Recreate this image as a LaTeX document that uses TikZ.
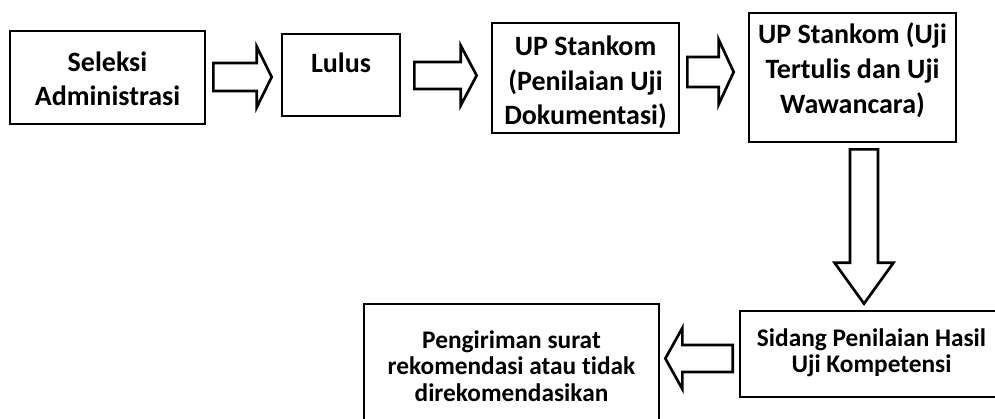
\documentclass[tikz,border=0pt]{standalone}
\usepackage{fontspec}
\setmainfont{Carlito}[Ligatures=NoCommon]
\usetikzlibrary{positioning,calc}

% block arrow between two coordinates: tail, tip, shaft half, head half, head length
\newcommand{\hblock}[5]{%
  \draw[blockarrow] ($(#1)+(0,#3)$) -- ($(#2)+({-(#5)},#3)$) -- ($(#2)+({-(#5)},#4)$) -- (#2)
    -- ($(#2)+({-(#5)},{-(#4)})$) -- ($(#2)+({-(#5)},{-(#3)})$) -- ($(#1)+(0,{-(#3)})$) -- cycle;}
\newcommand{\vblock}[5]{%
  \draw[blockarrow] ($(#1)+(#3,0)$) -- ($(#2)+(#3,{-(#5)})$) -- ($(#2)+(#4,{-(#5)})$) -- (#2)
    -- ($(#2)+({-(#4)},{-(#5)})$) -- ($(#2)+({-(#3)},{-(#5)})$) -- ($(#1)+({-(#3)},0)$) -- cycle;}
\newcommand{\boxlines}[2]{\raisebox{#1}[\height][\depth]{\begin{tabular}{@{}c@{}}#2\end{tabular}}}

\begin{document}
\begin{tikzpicture}[x=0.75pt,y=-0.75pt,
    box/.style={draw,line width=2pt,inner sep=0pt,font=\bfseries\fontsize{21}{26}\selectfont},
    lowbox/.style={box,font=\bfseries\fontsize{19}{20}\selectfont},
    blockarrow/.style={line width=2pt,line join=miter,fill=white}
    ]
\useasboundingbox (0,0) rectangle (995,418);

% Top row
\node[box,minimum width=146.25pt,minimum height=69.75pt] (sel) at (107.5,77.5) {\boxlines{-3pt}{Seleksi\\Administrasi}};
\node[box,minimum width=88.5pt,minimum height=61.5pt] (lul) at (341,75) {\boxlines{7pt}{Lulus}};
\node[box,minimum width=140.25pt,minimum height=82.5pt] (upd) at (585.5,78) {\boxlines{-4pt}{UP Stankom\\(Penilaian Uji\\Dokumentasi)}};
\node[box,minimum width=155.25pt,minimum height=96.75pt] (upu) at (852.5,77.5) {\boxlines{4.5pt}{UP Stankom (Uji\\Tertulis dan Uji\\Wawancara)}};

% Bottom row
\node[lowbox,minimum width=197.25pt,minimum height=64.5pt] (sid) at (871.5,354) {\boxlines{0pt}{Sidang Penilaian Hasil\\Uji Kompetensi}};
\node[lowbox,minimum width=221.25pt,minimum height=90pt] (pen) at (511.5,364) {\boxlines{-4pt}{Pengiriman surat\\rekomendasi atau tidak\\direkomendasikan}};

% Arrow ends
\coordinate (a1) at ($(sel.east)+(7,-0.5)$);
\coordinate (b1) at ($(lul.west |- a1)+(-9,0)$);
\coordinate (a2) at ($(lul.east)+(13,0.5)$);
\coordinate (b2) at ($(upd.west |- a2)+(-14,0)$);
\coordinate (a3) at ($(upd.east)+(7,-6)$);
\coordinate (b3) at ($(upu.west |- a3)+(-14,0)$);
\coordinate (a4) at ($(upu.south)+(11.5,6)$);
\coordinate (b4) at ($(a4 |- sid.north)+(0,-6)$);
\coordinate (a5) at ($(sid.west)+(-6,4.5)$);
\coordinate (b5) at ($(pen.east |- a5)+(5,0)$);

% Block arrows
\hblock{a1}{b1}{14}{30.5}{15}
\hblock{a2}{b2}{13.5}{30}{16}
\hblock{a3}{b3}{15}{32.5}{15}
\vblock{a4}{b4}{14}{29.5}{41}
\hblock{a5}{b5}{13.5}{30.5}{-17}

\end{tikzpicture}
\end{document}
